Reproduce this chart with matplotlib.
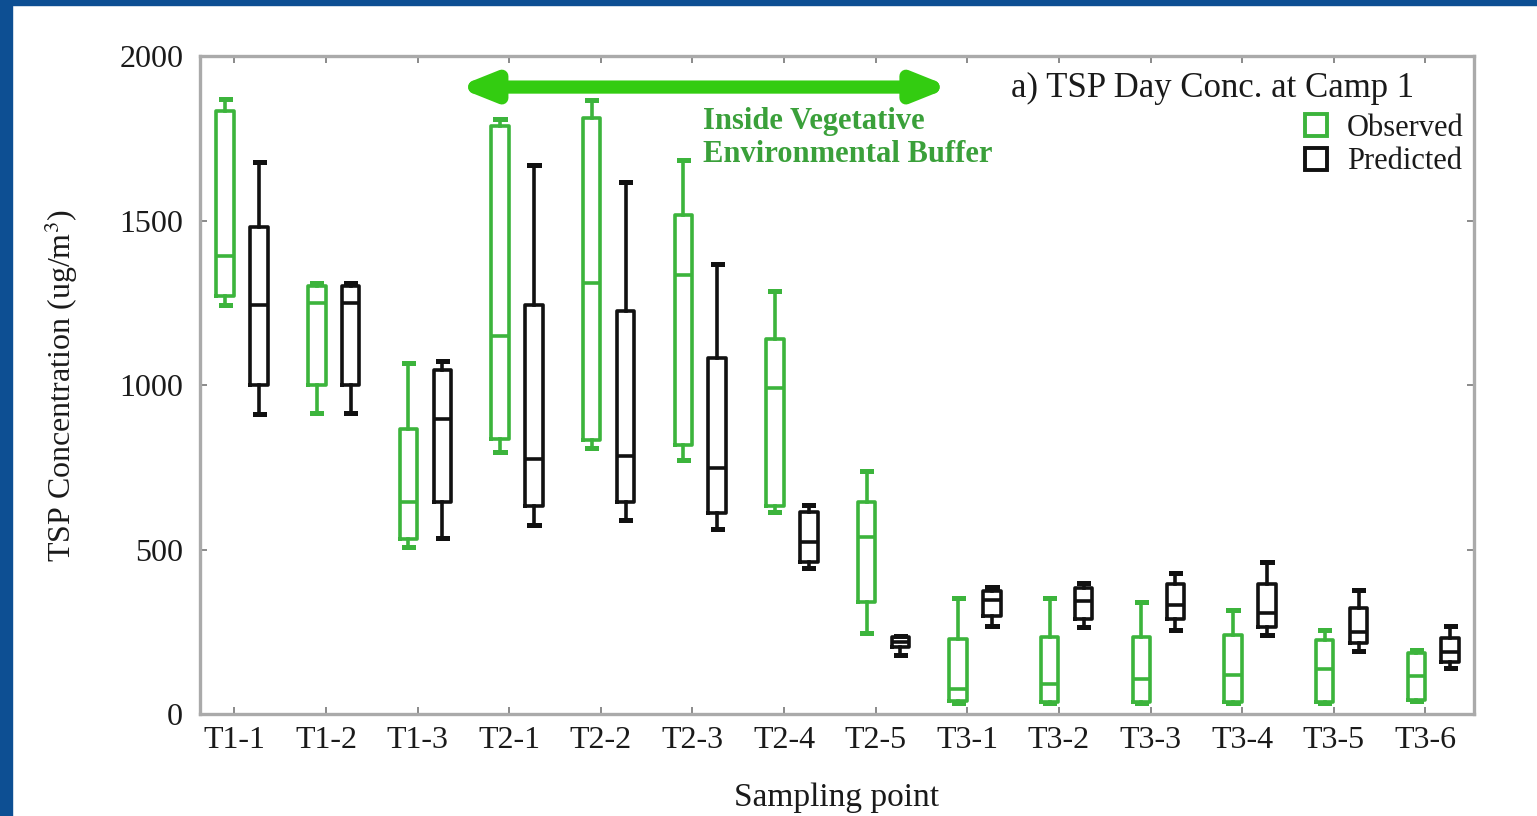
import matplotlib
matplotlib.use("Agg")
import matplotlib.pyplot as plt
from matplotlib.lines import Line2D
from matplotlib.patches import Rectangle

plt.rcParams['font.family'] = ['Liberation Serif', 'DejaVu Serif']
plt.rcParams['mathtext.fontset'] = 'stix'

points = ["T1-1", "T1-2", "T1-3", "T2-1", "T2-2", "T2-3", "T2-4",
          "T2-5", "T3-1", "T3-2", "T3-3", "T3-4", "T3-5", "T3-6"]

# observed: whisker low, q1, median, q3, whisker high
obs_low = [1246, 917, 509, 799, 811, 772, 616, 248, 35, 35, 35, 35, 35, 40]
obs_q1 = [1273, 1002, 532, 837, 833, 820, 634, 342, 40, 39, 39, 39, 39, 44]
obs_med = [1395, 1250, 647, 1150, 1310, 1337, 992, 539, 78, 93, 108, 120, 137, 118]
obs_q3 = [1833, 1301, 869, 1788, 1814, 1517, 1142, 646, 229, 237, 237, 242, 226, 186]
obs_high = [1872, 1311, 1067, 1810, 1869, 1686, 1287, 740, 354, 353, 343, 318, 257, 196]

# predicted
pred_low = [913, 917, 536, 577, 592, 564, 445, 180, 270, 267, 257, 242, 194, 140]
pred_q1 = [1000, 1002, 647, 635, 645, 613, 464, 205, 298, 290, 289, 267, 216, 160]
pred_med = [1244, 1252, 897, 778, 786, 750, 525, 220, 348, 345, 333, 307, 252, 190]
pred_q3 = [1483, 1301, 1047, 1244, 1227, 1083, 615, 235, 376, 384, 396, 397, 323, 232]
pred_high = [1679, 1311, 1073, 1669, 1618, 1368, 637, 240, 388, 401, 429, 464, 378, 269]

yticks = [0, 500, 1000, 1500, 2000]

GREEN = "#3cb43c"
BLACK = "#111111"
TXT = "#1a1a1a"


def make_stats(low, q1, med, q3, high):
    return [dict(whislo=a, q1=b, med=c, q3=d, whishi=e, fliers=[])
            for a, b, c, d, e in zip(low, q1, med, q3, high)]


fig = plt.figure(figsize=(15.37, 8.16), dpi=100)
ax = fig.add_axes([0.130, 0.1244, 0.829, 0.8064])

pos = list(range(len(points)))
for stats, off, col in [
        (make_stats(obs_low, obs_q1, obs_med, obs_q3, obs_high), -0.10, GREEN),
        (make_stats(pred_low, pred_q1, pred_med, pred_q3, pred_high), 0.27, BLACK)]:
    lw = 2.6
    ax.bxp(stats, positions=[p + off for p in pos], widths=0.19,
           capwidths=0.1, showfliers=False, manage_ticks=False,
           boxprops=dict(color=col, lw=lw),
           whiskerprops=dict(color=col, lw=lw),
           capprops=dict(color=col, lw=lw + 1),
           medianprops=dict(color=col, lw=lw))

ax.set_xlim(-0.377, 13.53)
ax.set_ylim(0, 2000)
ax.set_xticks(pos)
ax.set_xticklabels(points)
ax.set_yticks(yticks)
ax.tick_params(direction='in', length=5, width=1.2, color='#777777',
               labelsize=23, labelcolor=TXT, top=True, right=True)
ax.tick_params(axis='x', pad=8)
ax.tick_params(axis='y', pad=12)
for s in ax.spines.values():
    s.set_color('#aaaaaa')
    s.set_linewidth(2.4)

ax.set_xlabel("Sampling point", fontsize=24, color=TXT, labelpad=20)
ax.set_ylabel("TSP Concentration (ug/m$^3$)", fontsize=23, color=TXT, labelpad=28)

# buffer arrow
ax.annotate('', xy=(7.82, 1907), xytext=(2.43, 1907),
            arrowprops=dict(arrowstyle='<|-|>,head_length=0.65,head_width=0.26',
                            lw=9.5, color='#33cc11', shrinkA=0, shrinkB=0,
                            mutation_scale=30))
ax.text(5.11, 1752, "Inside Vegetative\nEnvironmental Buffer", color='#3aa03a',
        fontsize=22, fontweight='bold', ha='left', va='center', linespacing=1.2)

ax.text(0.953, 0.952, "a) TSP Day Conc. at Camp 1", transform=ax.transAxes,
        fontsize=25, ha='right', va='center', color=TXT)

handles = [Line2D([], [], ls='none', marker='s', ms=16, mfc='white', mec=GREEN, mew=2.8),
           Line2D([], [], ls='none', marker='s', ms=16, mfc='white', mec=BLACK, mew=2.8)]
ax.legend(handles, ["Observed", "Predicted"], loc='upper right',
          bbox_to_anchor=(1.004, 0.936), frameon=False, fontsize=22,
          handletextpad=0.5, labelspacing=0.15, borderaxespad=0.1,
          handlelength=1.0, labelcolor=TXT)

# blue frame on top and left
fig.patches.append(Rectangle((0, 0), 12 / 1537, 1, transform=fig.transFigure,
                             color='#0d4f93', zorder=10))
fig.patches.append(Rectangle((0, 1 - 5 / 816), 1, 5 / 816, transform=fig.transFigure,
                             color='#0d4f93', zorder=10))

fig.savefig("out.png", dpi=100)
